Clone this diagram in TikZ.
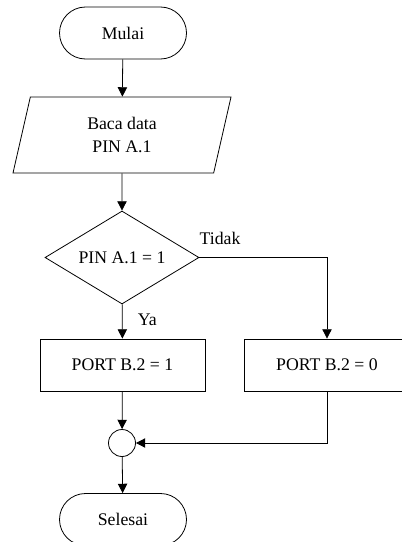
\documentclass[tikz,border=0pt]{standalone}
\usepackage{fontspec}
\setmainfont{Liberation Serif}
\usetikzlibrary{arrows.meta,shapes.geometric,shapes.misc}

\tikzset{
  terminal/.style={draw, rounded rectangle, minimum width=95.25pt, minimum height=39pt, inner sep=0pt},
  proses/.style={draw, rectangle, minimum width=123.75pt, minimum height=39pt, inner sep=0pt},
  io/.style={draw, trapezium, trapezium left angle=64, trapezium right angle=116, trapezium stretches body,
    minimum width=163.5pt, minimum height=57pt, inner sep=0pt, align=center},
  keputusan/.style={draw, diamond, aspect=1.66, minimum width=115.5pt, minimum height=69.75pt, inner sep=0pt},
  sambung/.style={draw, circle, minimum size=20.25pt, inner sep=0pt},
  panah/.style={-{Triangle[length=7pt,width=7pt]}},
}

\begin{document}
\begin{tikzpicture}[x=0.75pt, y=-0.75pt, line width=0.6pt,
    font=\fontsize{13.3}{17.25}\selectfont]
    \useasboundingbox (0,0) rectangle (401,542);
    % Mulai
    \node[terminal] (mulai) at (123,33) {Mulai};
    % Baca data
    \node[io] (baca) at (122,135) {Baca data\\PIN A.1};
    % Cek pin
    \node[keputusan] (cek) at (122,257.5) {PIN A.1 = 1};
    % Port
    \node[proses] (port1) at (122.5,365) {PORT B.2 = 1};
    \node[proses] (port0) at (327,365) {PORT B.2 = 0};
    % Gabung
    \node[sambung] (gabung) at (122,443) {};
    % Selesai
    \node[terminal] (selesai) at (123,519.5) {Selesai};

    \draw[panah] (mulai) -- (baca);
    \draw[panah] (baca) -- (cek);
    \draw[panah] (cek) -- node[right=8pt, pos=0.45]{Ya} (port1);
    \draw[panah] (cek.east) -| (port0.north);
    \node at (220,238) {Tidak};
    \draw[panah] (port1) -- (gabung);
    \draw[panah] (port0.south) |- (gabung.east);
    \draw[panah] (gabung) -- (selesai);
  \end{tikzpicture}
\end{document}
